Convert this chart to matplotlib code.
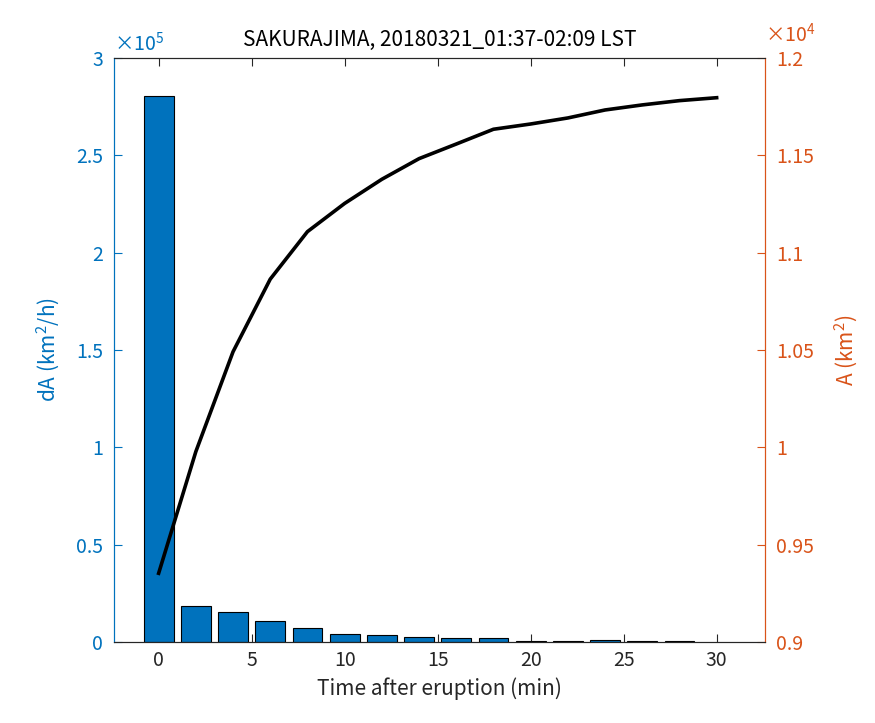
import numpy as np
import matplotlib
matplotlib.use("Agg")
import matplotlib.pyplot as plt
from matplotlib.ticker import FuncFormatter

plt.rcParams['font.family'] = ['Noto Sans CJK JP', 'DejaVu Sans']
plt.rcParams['mathtext.fontset'] = 'custom'
plt.rcParams['mathtext.rm'] = 'Noto Sans CJK JP'

# data
bar_t = [0, 2, 4, 6, 8, 10, 12, 14, 16, 18, 20, 22, 24, 26, 28]
dA = [280500, 18300, 15200, 10600, 7000, 3900, 3400, 2400, 1900, 1900,
      500, 500, 1000, 400, 400]          # km^2/h
line_t = [0, 2, 4, 6, 8, 10, 12, 14, 16, 18, 20, 22, 24, 26, 28, 30]
A = [9353, 9978, 10491, 10864, 11108, 11253, 11377, 11483, 11558, 11634,
     11661, 11692, 11733, 11759, 11781, 11796]   # km^2

blue = '#0072BD'
orange = '#D95319'
grey = '#262626'

fig = plt.figure(figsize=(8.75, 7.23), dpi=100)
ax = fig.add_axes([114/875, 81/723, 651/875, 584/723])
ax2 = ax.twinx()

ax.bar(bar_t, dA, width=1.6, color=blue, edgecolor='black', linewidth=0.8, zorder=2)
ax2.plot(line_t, A, color='black', linewidth=2.6, zorder=3)

ax.set_xlim(-2.4, 32.6)
ax.set_ylim(0, 3e5)
ax2.set_ylim(9000, 12000)
ax.set_xticks([0, 5, 10, 15, 20, 25, 30])
ax.set_yticks(np.arange(0, 3.01e5, 0.5e5))
ax2.set_yticks(np.arange(9000, 12001, 500))
ax.yaxis.set_major_formatter(FuncFormatter(lambda v, p: '%g' % round(v / 1e5, 3)))
ax2.yaxis.set_major_formatter(FuncFormatter(lambda v, p: '%g' % round(v / 1e4, 3)))

fs = 14
ax.tick_params(axis='x', direction='in', top=True, length=6, width=0.8,
               colors=grey, labelsize=fs, pad=6)
ax.tick_params(axis='y', direction='in', length=6, width=0.8,
               colors=blue, labelsize=fs, pad=8)
ax2.tick_params(axis='y', direction='in', length=6, width=0.8,
                colors=orange, labelsize=fs, pad=8)

for a in (ax, ax2):
    a.spines['top'].set_color(grey)
    a.spines['bottom'].set_color(grey)
    a.spines['left'].set_color(blue)
    a.spines['right'].set_color(orange)
    for s in a.spines.values():
        s.set_linewidth(0.8)

ax.set_xlabel('Time after eruption (min)', fontsize=fs + 1, color=grey, labelpad=4)
ax.set_ylabel('dA (km$^2$/h)', fontsize=fs + 1, color=blue, labelpad=10)
ax2.set_ylabel('A (km$^2$)', fontsize=fs + 1, color=orange, labelpad=14)
ax.set_title('SAKURAJIMA, 20180321_01:37-02:09 LST', fontsize=fs + 1, color='black', pad=9)

ax.text(0.0, 1.004, r'$\times10^5$', transform=ax.transAxes, color=blue,
        fontsize=fs, ha='left', va='bottom')
ax2.text(1.0, 1.02, r'$\times10^4$', transform=ax2.transAxes, color=orange,
         fontsize=fs, ha='left', va='bottom')

fig.savefig('out.png', dpi=100, facecolor='white')
